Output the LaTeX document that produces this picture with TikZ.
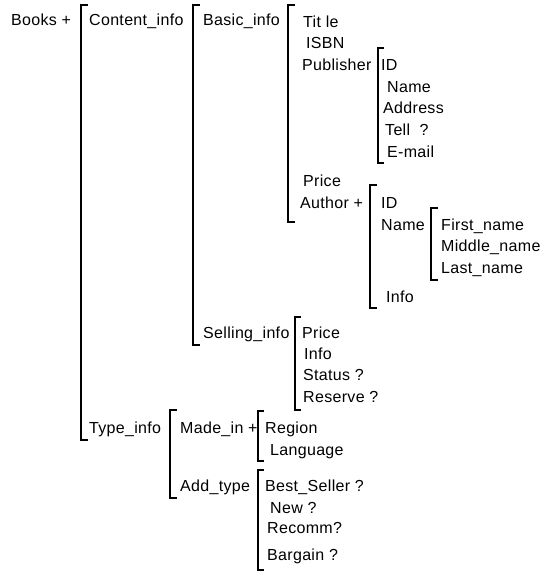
\documentclass[tikz,border=0pt]{standalone}
\usepackage{fontspec}
\setmainfont{Liberation Sans}
\begin{document}
\begin{tikzpicture}[x=1pt,y=-1pt,
  lbl/.style={anchor=base west,inner sep=0pt,font=\fontsize{16}{19}\selectfont\addfontfeatures{LetterSpace=2}},
  brk/.style={line width=1.6pt,line cap=butt,line join=miter}]
\useasboundingbox (0,0) rectangle (546,573);
% level 0
\node[lbl] (books) at (11,25) {Books +};
\draw[brk] (88,5) -- (81,5) -- (81,440) -- (88,440);
\node[lbl] (content) at (89,25) {Content\_info};
\node[lbl] (type) at (89,433) {Type\_info};
% content_info
\draw[brk] (200,5) -- (193,5) -- (193,345) -- (200,345);
\node[lbl] (basic) at (203,25) {Basic\_info};
\node[lbl] (selling) at (203,338) {Selling\_info};
% basic_info
\draw[brk] (295,5) -- (288,5) -- (288,222) -- (295,222);
\node[lbl] (title) at (303,27) {Tit le};
\node[lbl] (isbn) at (306,48) {ISBN};
\node[lbl] (publisher) at (302,70) {Publisher};
\node[lbl] (price) at (303,186) {Price};
\node[lbl] (author) at (300,208) {Author +};
% publisher
\draw[brk] (384,48) -- (378,48) -- (378,163) -- (384,163);
\node[lbl] (pid) at (381,70) {ID};
\node[lbl] (pname) at (387,92) {Name};
\node[lbl] (paddr) at (383,113) {Address};
\node[lbl] (ptel) at (385,135) {Tell\ \ ?};
\node[lbl] (pmail) at (387,157) {E-mail};
% author
\draw[brk] (377,185) -- (370,185) -- (370,308) -- (377,308);
\node[lbl] (aid) at (381,208) {ID};
\node[lbl] (aname) at (381,230) {Name};
\node[lbl] (ainfo) at (386,302) {Info};
% name
\draw[brk] (438,208) -- (431,208) -- (431,280) -- (438,280);
\node[lbl] (first) at (441,230) {First\_name};
\node[lbl] (middle) at (441,251) {Middle\_name};
\node[lbl] (last) at (441,273) {Last\_name};
% selling_info
\draw[brk] (301,317) -- (295,317) -- (295,410) -- (301,410);
\node[lbl] (sprice) at (302,338) {Price};
\node[lbl] (sinfo) at (304,359) {Info};
\node[lbl] (status) at (303,380) {Status ?};
\node[lbl] (reserve) at (303,402) {Reserve ?};
% type_info
\draw[brk] (177,410) -- (170,410) -- (170,498) -- (177,498);
\node[lbl] (made) at (180,433) {Made\_in +};
\node[lbl] (add) at (180,491) {Add\_type};
% made_in
\draw[brk] (264,411) -- (258,411) -- (258,461) -- (264,461);
\node[lbl] (region) at (265,433) {Region};
\node[lbl] (lang) at (270,455) {Language};
% add_type
\draw[brk] (264,470) -- (258,470) -- (258,570) -- (264,570);
\node[lbl] (best) at (265,491) {Best\_Seller ?};
\node[lbl] (new) at (270,513) {New ?};
\node[lbl] (recomm) at (267,533) {Recomm?};
\node[lbl] (bargain) at (267,560) {Bargain ?};
\end{tikzpicture}
\end{document}
